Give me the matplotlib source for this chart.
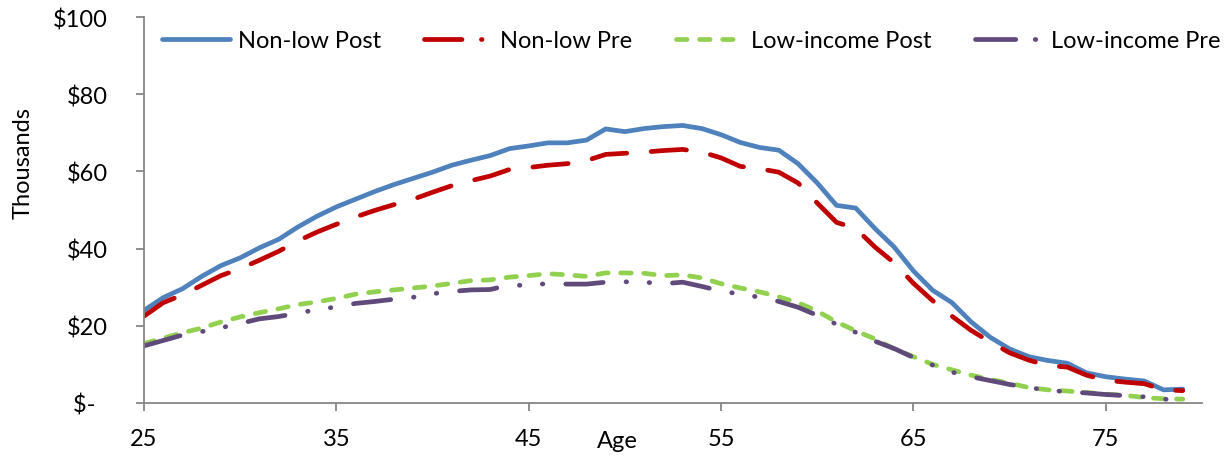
import numpy as np
import matplotlib
matplotlib.use("Agg")
import matplotlib.pyplot as plt
from matplotlib.lines import Line2D

plt.rcParams['font.family'] = ['Lato', 'DejaVu Sans']
plt.rcParams['lines.scale_dashes'] = False

# Ages on the x axis
ages = np.arange(25, 80)

# Income by age, in thousands of dollars
non_low_post = [24.0, 27.3, 29.6, 32.8, 35.6, 37.6, 40.2, 42.4, 45.6, 48.4,
                50.8, 52.8, 54.8, 56.6, 58.2, 59.8, 61.6, 62.9, 64.1, 65.9,
                66.6, 67.4, 67.4, 68.1, 71.0, 70.3, 71.1, 71.6, 71.9, 71.1,
                69.5, 67.5, 66.2, 65.5, 62.0, 57.0, 51.2, 50.5, 45.2, 40.4,
                34.2, 29.2, 26.0, 21.0, 17.0, 14.0, 12.0, 11.0, 10.3, 7.8,
                6.8, 6.2, 5.7, 3.4, 3.6]
non_low_pre = [22.5, 26.0, 28.0, 30.5, 33.0, 34.8, 37.0, 39.3, 42.0, 44.3,
               46.3, 48.2, 49.9, 51.4, 52.8, 54.6, 56.3, 57.6, 58.8, 60.5,
               61.0, 61.6, 62.0, 62.8, 64.4, 64.7, 65.0, 65.4, 65.7, 65.0,
               63.5, 61.3, 60.7, 59.8, 57.0, 51.8, 46.8, 45.2, 40.4, 36.3,
               31.0, 26.5, 22.5, 18.8, 15.8, 13.0, 11.1, 9.7, 9.3, 7.2,
               5.9, 5.4, 5.0, 3.4, 3.2]
low_post = [15.4, 16.8, 18.2, 19.4, 21.0, 22.3, 23.4, 24.4, 25.5, 26.2,
            27.1, 28.2, 28.8, 29.3, 29.8, 30.3, 31.0, 31.7, 31.9, 32.6,
            33.0, 33.5, 33.2, 32.8, 33.7, 33.7, 33.6, 33.0, 33.2, 32.4,
            30.9, 29.8, 28.8, 27.5, 26.0, 23.8, 21.0, 18.7, 16.6, 14.0,
            12.0, 10.0, 8.6, 7.2, 6.1, 5.1, 4.0, 3.4, 3.1, 2.7,
            2.3, 2.0, 1.4, 1.1, 1.0]
low_pre = [14.8, 16.2, 17.6, 18.5, 19.5, 20.6, 21.8, 22.4, 23.3, 24.2,
           24.9, 25.8, 26.3, 26.9, 27.4, 28.3, 28.9, 29.3, 29.4, 30.6,
           30.4, 31.0, 30.8, 30.8, 31.3, 31.4, 31.3, 30.9, 31.3, 30.2,
           29.0, 28.2, 27.4, 26.3, 24.8, 22.7, 20.4, 18.3, 16.0, 14.1,
           11.8, 9.8, 8.0, 6.8, 5.8, 4.8, 4.0, 3.3, 2.9, 2.6,
           2.2, 1.9, 1.6, 1.0, 0.8]

labels = ["Non-low Post", "Non-low Pre", "Low-income Post", "Low-income Pre"]
colors = ["#4F81BD", "#C00000", "#92D050", "#604A7B"]

xticks = [25, 35, 45, 55, 65, 75]
yticks = [0, 20, 40, 60, 80, 100]
ytick_labels = ["$-  ", "$20", "$40", "$60", "$80", "$100"]

lw = 3.4
fs = 17
# dash patterns in points (round caps)
dash_red = (0, (25.5, 17.6))
dash_green = (0, (7.6, 9.0))
dash_purple = (0, (27.0, 16.5, 0.4, 16.2, 0.4, 16.5))

fig = plt.figure(figsize=(12.28, 4.6), dpi=100)
ax = fig.add_axes([144 / 1228, 1 - 404 / 460, 1058 / 1228, 386 / 460])

ax.plot(ages, non_low_post, color=colors[0], lw=lw, solid_capstyle='round',
        solid_joinstyle='round')
ax.plot(ages, non_low_pre, color=colors[1], lw=lw, linestyle=dash_red,
        dash_capstyle='round', dash_joinstyle='round')
ax.plot(ages, low_post, color=colors[2], lw=lw, linestyle=dash_green,
        dash_capstyle='round', dash_joinstyle='round')
ax.plot(ages, low_pre, color=colors[3], lw=lw, linestyle=dash_purple,
        dash_capstyle='round', dash_joinstyle='round')

ax.set_xlim(25, 80)
ax.set_ylim(0, 100)
ax.set_xticks(xticks)
ax.set_yticks(yticks)
ax.set_yticklabels(ytick_labels)

for side in ["top", "right"]:
    ax.spines[side].set_visible(False)
for side in ["left", "bottom"]:
    ax.spines[side].set_color("#868686")
    ax.spines[side].set_linewidth(1.3)
ax.tick_params(axis='both', colors="#868686", labelcolor="black",
               labelsize=fs, length=6, width=1.3, direction='out')
ax.tick_params(axis='y', pad=20)
ax.tick_params(axis='x', pad=12)

ax.set_xlabel("Age", fontsize=fs)
ax.xaxis.set_label_coords((617 - 144) / 1058, -0.07)
ax.set_ylabel("Thousands", fontsize=fs)
ax.yaxis.set_label_coords(-0.104, 0.624)

# legend handles drawn like the original legend
handles = [
    Line2D([], [], color=colors[0], lw=lw, solid_capstyle='round'),
    Line2D([], [], color=colors[1], lw=lw, linestyle=(0, (27.0, 14.0, 0.4, 14.0)),
           dash_capstyle='round'),
    Line2D([], [], color=colors[2], lw=lw, linestyle=dash_green,
           dash_capstyle='round'),
    Line2D([], [], color=colors[3], lw=lw, linestyle=(0, (29.0, 14.0, 0.4, 14.0)),
           dash_capstyle='round'),
]
ax.legend(handles, labels, ncol=4, loc='center left', frameon=False,
          bbox_to_anchor=(162 / 1228, 1 - 42 / 460), bbox_transform=fig.transFigure,
          fontsize=fs, handlelength=2.9, handletextpad=0.3, columnspacing=1.85,
          borderaxespad=0, borderpad=0)

fig.savefig("out.png", dpi=100)
